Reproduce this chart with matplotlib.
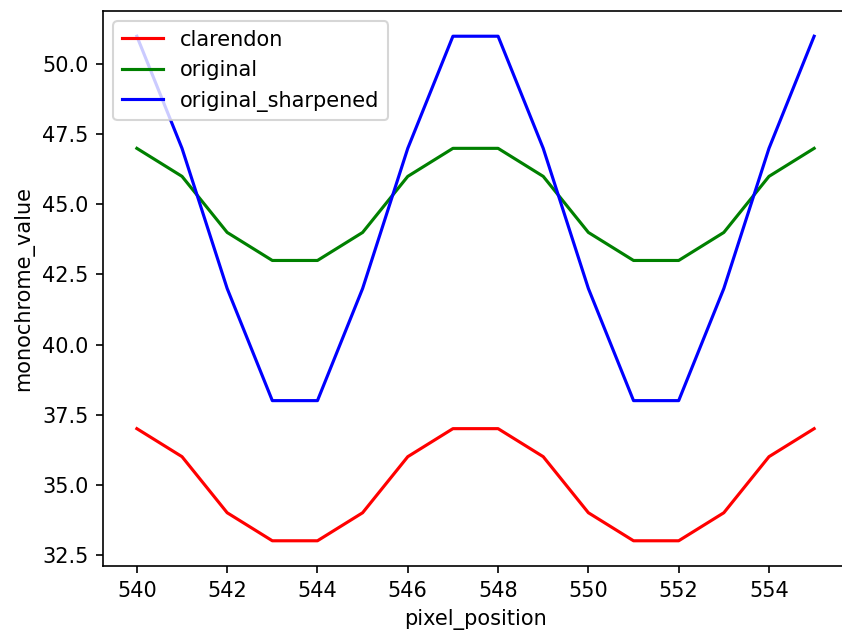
import matplotlib
matplotlib.use("Agg")
import matplotlib.pyplot as plt

pixel_position = list(range(540, 556))
clarendon = [37, 36, 34, 33, 33, 34, 36, 37, 37, 36, 34, 33, 33, 34, 36, 37]
original = [47, 46, 44, 43, 43, 44, 46, 47, 47, 46, 44, 43, 43, 44, 46, 47]
original_sharpened = [51, 47, 42, 38, 38, 42, 47, 51, 51, 47, 42, 38, 38, 42, 47, 51]

DPI = 150
W, H = 842, 639
fig = plt.figure(figsize=(W / DPI, H / DPI), dpi=DPI)
# axes run slightly past the right edge, as in the cropped reference
ax = fig.add_axes([103 / W, 1 - 566 / H, (848 - 103) / W, (566 - 11) / H])

ax.plot(pixel_position, clarendon, color="red", label="clarendon")
ax.plot(pixel_position, original, color="green", label="original")
ax.plot(pixel_position, original_sharpened, color="blue", label="original_sharpened")

ax.set_xlabel("pixel_position")
ax.set_ylabel("monochrome_value")
ax.legend(loc="upper left")

fig.savefig("out.png", dpi=DPI)
